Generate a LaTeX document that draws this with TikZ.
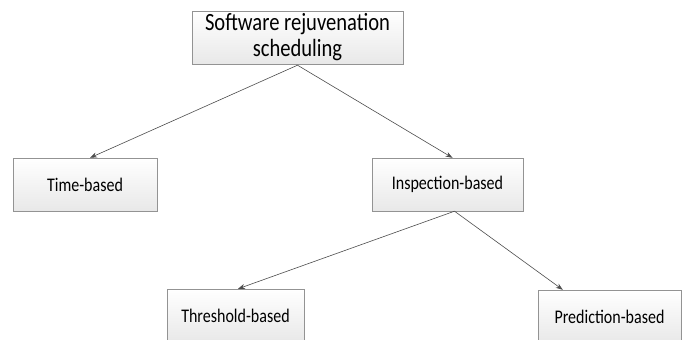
\documentclass[tikz,border=0pt]{standalone}
\usepackage{fontspec}
\setmainfont{Carlito}
\usetikzlibrary{positioning, arrows.meta}
\newcommand{\narrowtxt}[1]{\scalebox{0.83}[1]{#1}}

\begin{document}
\begin{tikzpicture}[x=1pt, y=-1pt, on grid, >={Stealth[length=7pt, width=5pt]},
    box/.style={draw=gray!85, top color=white, bottom color=gray!18, inner sep=0pt,
                minimum height=53pt, align=center, font=\fontsize{19.3}{23}\selectfont},
    link/.style={->, draw=black!70, line width=0.6pt}]
    \clip (0,0) rectangle (686,340);
    % Nodes
    % root
    \node[box, minimum width=211pt, font=\fontsize{24.8}{26}\selectfont] (root) at (297.5,37.5)
        {\narrowtxt{Software rejuvenation}\\\narrowtxt{scheduling}};

    % first level
    \node[box, minimum width=144pt] (time) [below left=147pt and 212.5pt of root] {\narrowtxt{Time-based}};
    \node[box, minimum width=151pt] (insp) [below right=147pt and 150pt of root] {\narrowtxt{Inspection-based}};

    % second level
    \node[box, minimum width=137pt] (thresh) [below left=131pt and 212pt of insp] {\narrowtxt{Threshold-based}};
    \node[box, minimum width=143pt] (pred) [below right=132pt and 162pt of insp] {\narrowtxt{Prediction-based}};

    % Connectors
    \draw[link] ([yshift=-1pt]root.south) -- ([xshift=5pt]time.north);
    \draw[link] ([yshift=-1pt]root.south) -- ([xshift=5pt]insp.north);
    \draw[link] ([xshift=7pt]insp.south) -- ([xshift=2.5pt]thresh.north);
    \draw[link] ([xshift=7pt]insp.south) -- ([xshift=25pt]pred.north west);

\end{tikzpicture}
\end{document}
